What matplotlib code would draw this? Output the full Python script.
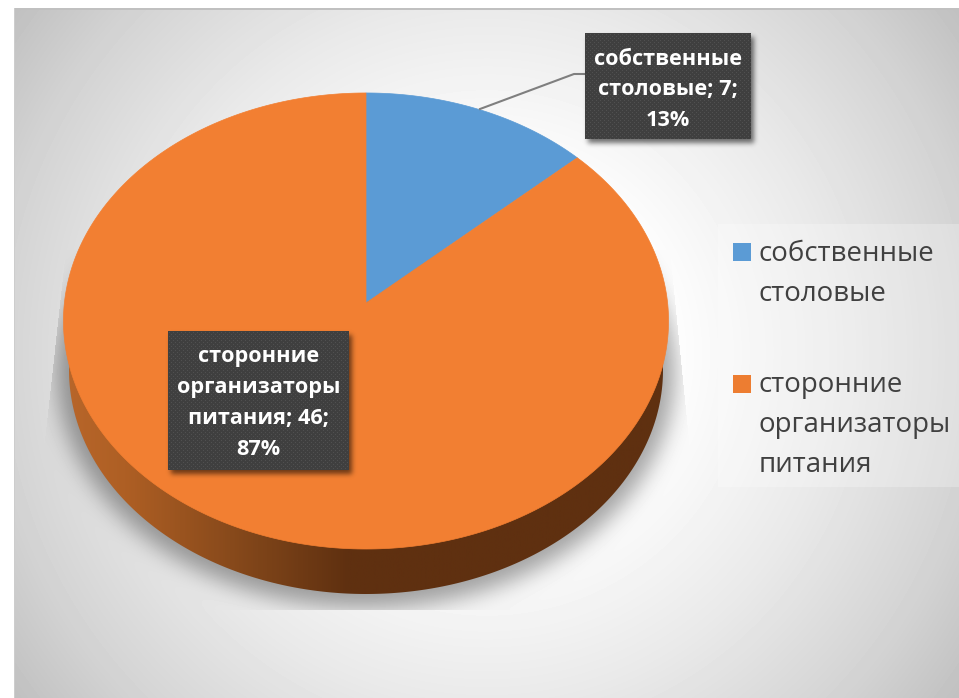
#!/usr/bin/env python3
import numpy as np
import matplotlib
matplotlib.use('Agg')
from matplotlib import pyplot as plt
from matplotlib.colors import LinearSegmentedColormap
from matplotlib.patches import Polygon, Rectangle
from matplotlib.path import Path

categories = ['собственные столовые', 'сторонние организаторы питания']
values = [7, 46]
percents = ['13%', '87%']
colors = ['#5B9BD5', '#F27F32']
legend_colors = ['#5B9BD5', '#ED7D31']

W, H = 959, 698

# perspective of the top face, circle centre lands on the apex
cx, cy = 366.0, 303.0
k = 0.0789      # perspective strength
sx, sy = 301.6, 226.6


def project(theta):
    """theta in rad, clockwise from 12 o'clock"""
    d = 1 + k * np.cos(theta)
    return cx + sx * np.sin(theta) / d, cy - sy * np.cos(theta) / d


def blur(a, sigma):
    fy = np.fft.fftfreq(a.shape[0])[:, None]
    fx = np.fft.fftfreq(a.shape[1])[None, :]
    g = np.exp(-2 * (np.pi * sigma) ** 2 * (fx ** 2 + fy ** 2))
    return np.fft.ifft2(np.fft.fft2(a) * g).real


yy, xx = np.mgrid[0:H, 0:W] + 0.5

# background: radial white to gray
r = np.hypot(xx - 487, yy - 353) / np.hypot(472, 345)
bg = np.interp(r, [0.3, 0.6, 0.85, 1.0], [255, 233, 210, 192])

# pie shadow, blurred and cut to a trapezoid like Office does
sh = (((xx - cx) / 309) ** 2 + ((yy - 372) / 236) ** 2 < 1).astype(float)
sh = blur(sh, 11)
clip = Path([(66, 250), (44, 450), (44, 610), (690, 610), (690, 450), (670, 250)])
mask = clip.contains_points(np.c_[xx.ravel(), yy.ravel()]).reshape(xx.shape)
bg = bg * (1 - 0.36 * sh * mask)

# outside of the chart area
bg[:, :15] = 255
bg[:9, :] = 255
bg[8:10, 14:] = 192
bg[8:, 14:15] = 205

fig = plt.figure(figsize=(W / 100, H / 100), dpi=100)
ax = fig.add_axes([0, 0, 1, 1])
ax.imshow(bg, cmap='gray', vmin=0, vmax=255, extent=(0, W, H, 0), aspect='auto',
          interpolation='nearest', zorder=0)

# side of the pie: lower ellipse, slightly narrower
t = np.linspace(0, 2 * np.pi, 721)
side = Polygon(np.c_[cx + 297 * np.sin(t), 370 + 224 * np.cos(t)], closed=True,
               fc='none', ec='none', zorder=1)
ax.add_patch(side)
side_cmap = LinearSegmentedColormap.from_list(
    'side', [(0, '#B8662A'), (0.1, '#AE5F24'), (0.32, '#7E4419'), (0.47, '#5F3010'), (1, '#5F3010')])
img = ax.imshow(np.linspace(0, 1, 620)[None, :], cmap=side_cmap, extent=(64, 669, 600, 300),
                aspect='auto', zorder=1)
img.set_clip_path(side)

# top face
fractions = np.array(values) / sum(values)
edges = np.r_[0, np.cumsum(fractions)] * 2 * np.pi
for i, col in enumerate(colors):
    a = np.linspace(edges[i], edges[i + 1], 400)
    px, py = project(a)
    pts = np.c_[np.r_[cx, px], np.r_[cy, py]]
    ax.add_patch(Polygon(pts, closed=True, fc=col, ec=col, lw=0.5, zorder=2))

# leader line of the small slice
ax.plot([480, 574, 585], [109, 74, 74], color='#7F7F7F', lw=1.5, zorder=3)


def label_box(x0, y0, x1, y1, lines, ty):
    # soft shadow
    w, h = x1 - x0, y1 - y0
    m = 14
    s = np.zeros((h + 2 * m, w + 2 * m))
    s[m:-m, m:-m] = 1
    s = blur(s, 2.5)
    rgba = np.zeros(s.shape + (4,))
    rgba[..., 3] = s * 0.55
    ax.imshow(rgba, extent=(x0 - m + 3, x1 + m + 3, y1 + m + 4, y0 - m + 4), aspect='auto', zorder=4)
    # dark box with a dotted texture
    tex = np.full((h, w), 0x3F, dtype=float)
    tex[1::4, 1::4] = 0x50
    tex[3::4, 3::4] = 0x50
    ax.imshow(tex, cmap='gray', vmin=0, vmax=255, extent=(x0, x1, y1, y0), aspect='auto',
              interpolation='nearest', zorder=5)
    ax.text((x0 + x1) / 2, ty, '\n'.join(lines), color='white', ha='center', va='center',
            family='Open Sans', weight='bold', fontsize=15.6, linespacing=1.62, zorder=6)


label_box(585, 33, 751, 139, ['собственные', f'столовые; {values[0]};', percents[0]], 90)
label_box(168, 331, 349, 470, ['сторонние', 'организаторы', f'питания; {values[1]};', percents[1]], 403)

# legend
ax.add_patch(Rectangle((718, 224), 241, 263, fc='white', ec='none', alpha=0.25, zorder=3))
ax.add_patch(Rectangle((733, 243), 18, 18, fc=legend_colors[0], ec='none', zorder=4))
ax.add_patch(Rectangle((733, 375), 18, 18, fc=legend_colors[1], ec='none', zorder=4))
ax.text(759, 274, 'собственные\nстоловые', color='#404040', ha='left', va='center',
        family='Open Sans', fontsize=19.9, linespacing=1.55, zorder=5)
ax.text(759, 425, 'сторонние\nорганизаторы\nпитания', color='#404040', ha='left', va='center',
        family='Open Sans', fontsize=19.9, linespacing=1.55, zorder=5)

ax.set_xlim(0, W)
ax.set_ylim(H, 0)
ax.axis('off')
fig.savefig('out.png', dpi=100)
